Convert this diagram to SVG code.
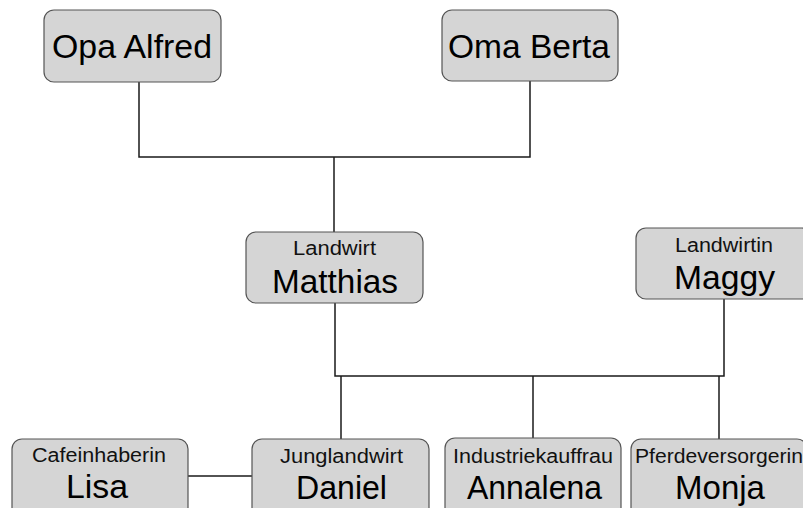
<svg xmlns="http://www.w3.org/2000/svg" width="803" height="508" viewBox="0 0 803 508">
<style>
.box{fill:#d5d5d5;stroke:#555;stroke-width:1.2}
.big{font-family:"Liberation Sans",Arial,sans-serif;font-size:33px;fill:#000;text-anchor:middle}
.small{font-family:"Liberation Sans",Arial,sans-serif;font-size:20px;fill:#111;text-anchor:middle}
.conn{fill:none;stroke:#1a1a1a;stroke-width:1.5}
</style>
<rect width="803" height="508" fill="#fff"/>
<g id="connectors">
<path class="conn" d="M139 82 V157 H530 V81"/>
<path class="conn" d="M334 157 V232"/>
<path class="conn" d="M335 303 V376 H724 V299"/>
<path class="conn" d="M341 376 V439"/>
<path class="conn" d="M533 376 V438"/>
<path class="conn" d="M719 376 V439"/>
<path class="conn" d="M188 476 H252"/>
</g>
<g id="opa">
<rect class="box" x="44" y="10" width="177" height="72" rx="10"/>
<text class="big" x="132" y="58" textLength="160" lengthAdjust="spacingAndGlyphs">Opa Alfred</text>
</g>
<g id="oma">
<rect class="box" x="442" y="10" width="176" height="71" rx="10"/>
<text class="big" x="529" y="58" textLength="162" lengthAdjust="spacingAndGlyphs">Oma Berta</text>
</g>
<g id="matthias">
<rect class="box" x="246" y="232" width="177" height="71" rx="10"/>
<text class="small" x="334.5" y="255" textLength="83" lengthAdjust="spacingAndGlyphs">Landwirt</text>
<text class="big" x="335" y="293" textLength="126" lengthAdjust="spacingAndGlyphs">Matthias</text>
</g>
<g id="maggy">
<rect class="box" x="636" y="228" width="176" height="71" rx="10"/>
<text class="small" x="724" y="252" textLength="98" lengthAdjust="spacingAndGlyphs">Landwirtin</text>
<text class="big" x="724.5" y="289" textLength="101" lengthAdjust="spacingAndGlyphs">Maggy</text>
</g>
<g id="lisa">
<rect class="box" x="12" y="439" width="176" height="80" rx="10"/>
<text class="small" x="99" y="462" textLength="134" lengthAdjust="spacingAndGlyphs">Cafeinhaberin</text>
<text class="big" x="97" y="498" textLength="62" lengthAdjust="spacingAndGlyphs">Lisa</text>
</g>
<g id="daniel">
<rect class="box" x="252" y="439" width="177" height="80" rx="10"/>
<text class="small" x="341.5" y="463" textLength="123" lengthAdjust="spacingAndGlyphs">Junglandwirt</text>
<text class="big" x="341.5" y="499" textLength="91" lengthAdjust="spacingAndGlyphs">Daniel</text>
</g>
<g id="annalena">
<rect class="box" x="445" y="438" width="176" height="80" rx="10"/>
<text class="small" x="533" y="463" textLength="160" lengthAdjust="spacingAndGlyphs">Industriekauffrau</text>
<text class="big" x="534.5" y="499" textLength="135" lengthAdjust="spacingAndGlyphs">Annalena</text>
</g>
<g id="monja">
<rect class="box" x="631" y="439" width="176" height="80" rx="10"/>
<text class="small" x="719" y="463" textLength="168" lengthAdjust="spacingAndGlyphs">Pferdeversorgerin</text>
<text class="big" x="720" y="499" textLength="90" lengthAdjust="spacingAndGlyphs">Monja</text>
</g>
</svg>
